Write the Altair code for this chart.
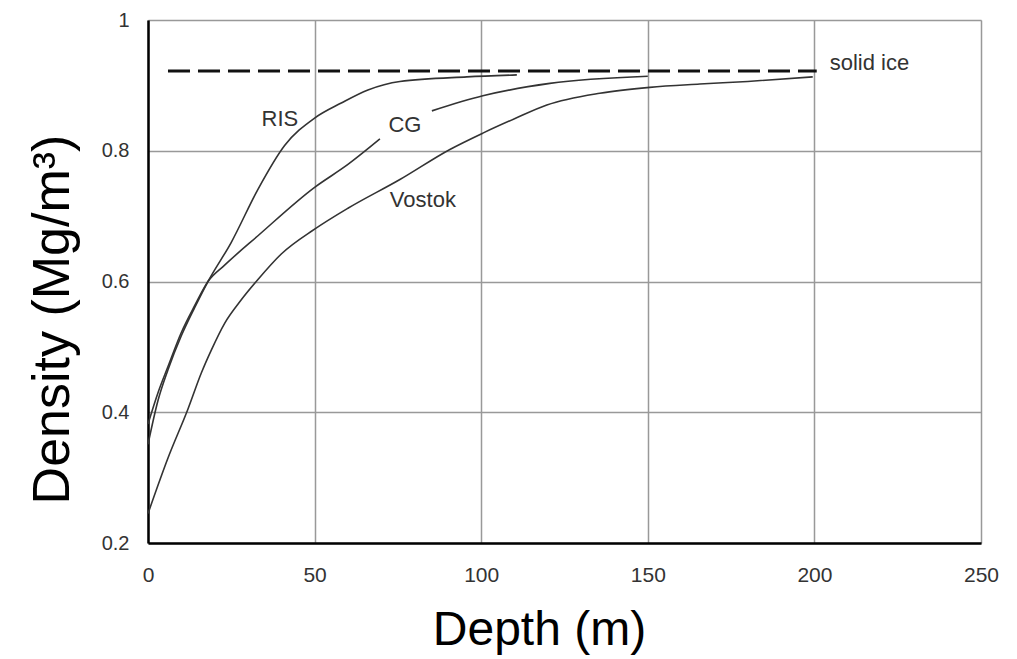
import altair as alt
import pandas as pd

# Curve data
ris_depth = [0, 3, 6, 10, 14, 18, 25, 33, 41, 50, 58, 66, 75.6, 95.7, 110.7]
ris_density = [0.351, 0.418, 0.465, 0.517, 0.560, 0.600, 0.660, 0.741, 0.808, 0.850, 0.873, 0.893, 0.906, 0.913, 0.916]

cg1_depth = [0, 3, 6, 10, 14, 18, 23, 33, 50, 60, 69.6]
cg1_density = [0.382, 0.430, 0.470, 0.522, 0.563, 0.600, 0.625, 0.670, 0.744, 0.779, 0.818]
cg2_depth = [85.2, 100.5, 120.6, 150]
cg2_density = [0.861, 0.884, 0.903, 0.914]

vostok_depth = [0, 6, 12, 16, 19, 23, 28, 33, 40, 50, 60, 75.6, 90.6, 100.5, 110, 119.7, 135.6, 150.6, 165.6, 180, 199.5]
vostok_density = [0.245, 0.330, 0.405, 0.460, 0.495, 0.536, 0.572, 0.603, 0.642, 0.680, 0.712, 0.756, 0.802, 0.827, 0.849, 0.870, 0.888, 0.897, 0.902, 0.906, 0.913]

solid_ice_depth = [6, 200.7]
solid_ice_density = [0.922, 0.922]

label_text = ["RIS", "CG", "Vostok", "solid ice"]
label_depth = [39.6, 77.1, 82.5, 204.6]
label_density = [0.849, 0.840, 0.724, 0.934]
label_align = ["center", "center", "center", "left"]

x_ticks = [0, 50, 100, 150, 200, 250]
y_ticks = [0.2, 0.4, 0.6, 0.8, 1.0]

rows = []
for seg, ds, vs in [("RIS", ris_depth, ris_density), ("CG1", cg1_depth, cg1_density),
                    ("CG2", cg2_depth, cg2_density), ("Vostok", vostok_depth, vostok_density)]:
    for i, (d, v) in enumerate(zip(ds, vs)):
        rows.append({"segment": seg, "depth": d, "density": v, "order": i})
curves = pd.DataFrame(rows)
ice = pd.DataFrame({"depth": solid_ice_depth, "density": solid_ice_density})
labels = pd.DataFrame({"text": label_text, "depth": label_depth, "density": label_density, "align": label_align})

FONT = "Liberation Sans"

xscale = alt.Scale(domain=[0, 250], nice=False)
yscale = alt.Scale(domain=[0.2, 1.0], nice=False, zero=False)

xenc = alt.X("depth:Q", scale=xscale,
             axis=alt.Axis(values=x_ticks, title="Depth (m)", grid=True, ticks=False,
                           labelFontSize=21, labelColor="#333", labelPadding=21, labelFont=FONT,
                           labelFlush=False, labelOverlap=False,
                           titleFont=FONT, titleFontSize=48, titleFontWeight="normal", titleColor="black",
                           titleX=391, titleY=101, titleAlign="center", titleBaseline="alphabetic",
                           domainColor="black", domainWidth=2.5, gridColor="#999", gridWidth=1.5))
yenc = alt.Y("density:Q", scale=yscale,
             axis=alt.Axis(values=y_ticks, format=".1~f", title="Density (Mg/m³)", grid=True, ticks=False,
                           labelFontSize=20, labelColor="#333", labelPadding=19, labelFont=FONT,
                           labelFlush=False, labelOverlap=False,
                           titleFont=FONT, titleFontSize=52, titleFontWeight="normal", titleColor="black",
                           titleX=-80, titleY=299, titleAngle=270, titleAlign="center", titleBaseline="alphabetic",
                           domainColor="black", domainWidth=2.5, gridColor="#999", gridWidth=1.5))

lines = alt.Chart(curves).mark_line(color="#333", strokeWidth=1.6, interpolate="monotone").encode(
    x=xenc, y=yenc, detail="segment:N", order="order:Q")

ice_line = alt.Chart(ice).mark_line(color="#111", strokeWidth=3, strokeDash=[22, 8]).encode(
    x="depth:Q", y="density:Q")

text_center = alt.Chart(labels[labels["align"] == "center"]).mark_text(
    font=FONT, fontSize=22, color="#333", align="center", baseline="middle").encode(
    x="depth:Q", y="density:Q", text="text:N")
text_left = alt.Chart(labels[labels["align"] == "left"]).mark_text(
    font=FONT, fontSize=22, color="#333", align="left", baseline="middle").encode(
    x="depth:Q", y="density:Q", text="text:N")

chart = alt.layer(lines, ice_line, text_center, text_left).properties(
    width=833, height=523,
    autosize=alt.AutoSizeParams(type="none"),
    padding={"left": 140, "top": 12, "right": 20, "bottom": 113},
).configure_view(stroke="#555", strokeWidth=1.5).configure(background="white")

chart.save("out.html", embed_options={"renderer": "svg", "actions": False})
